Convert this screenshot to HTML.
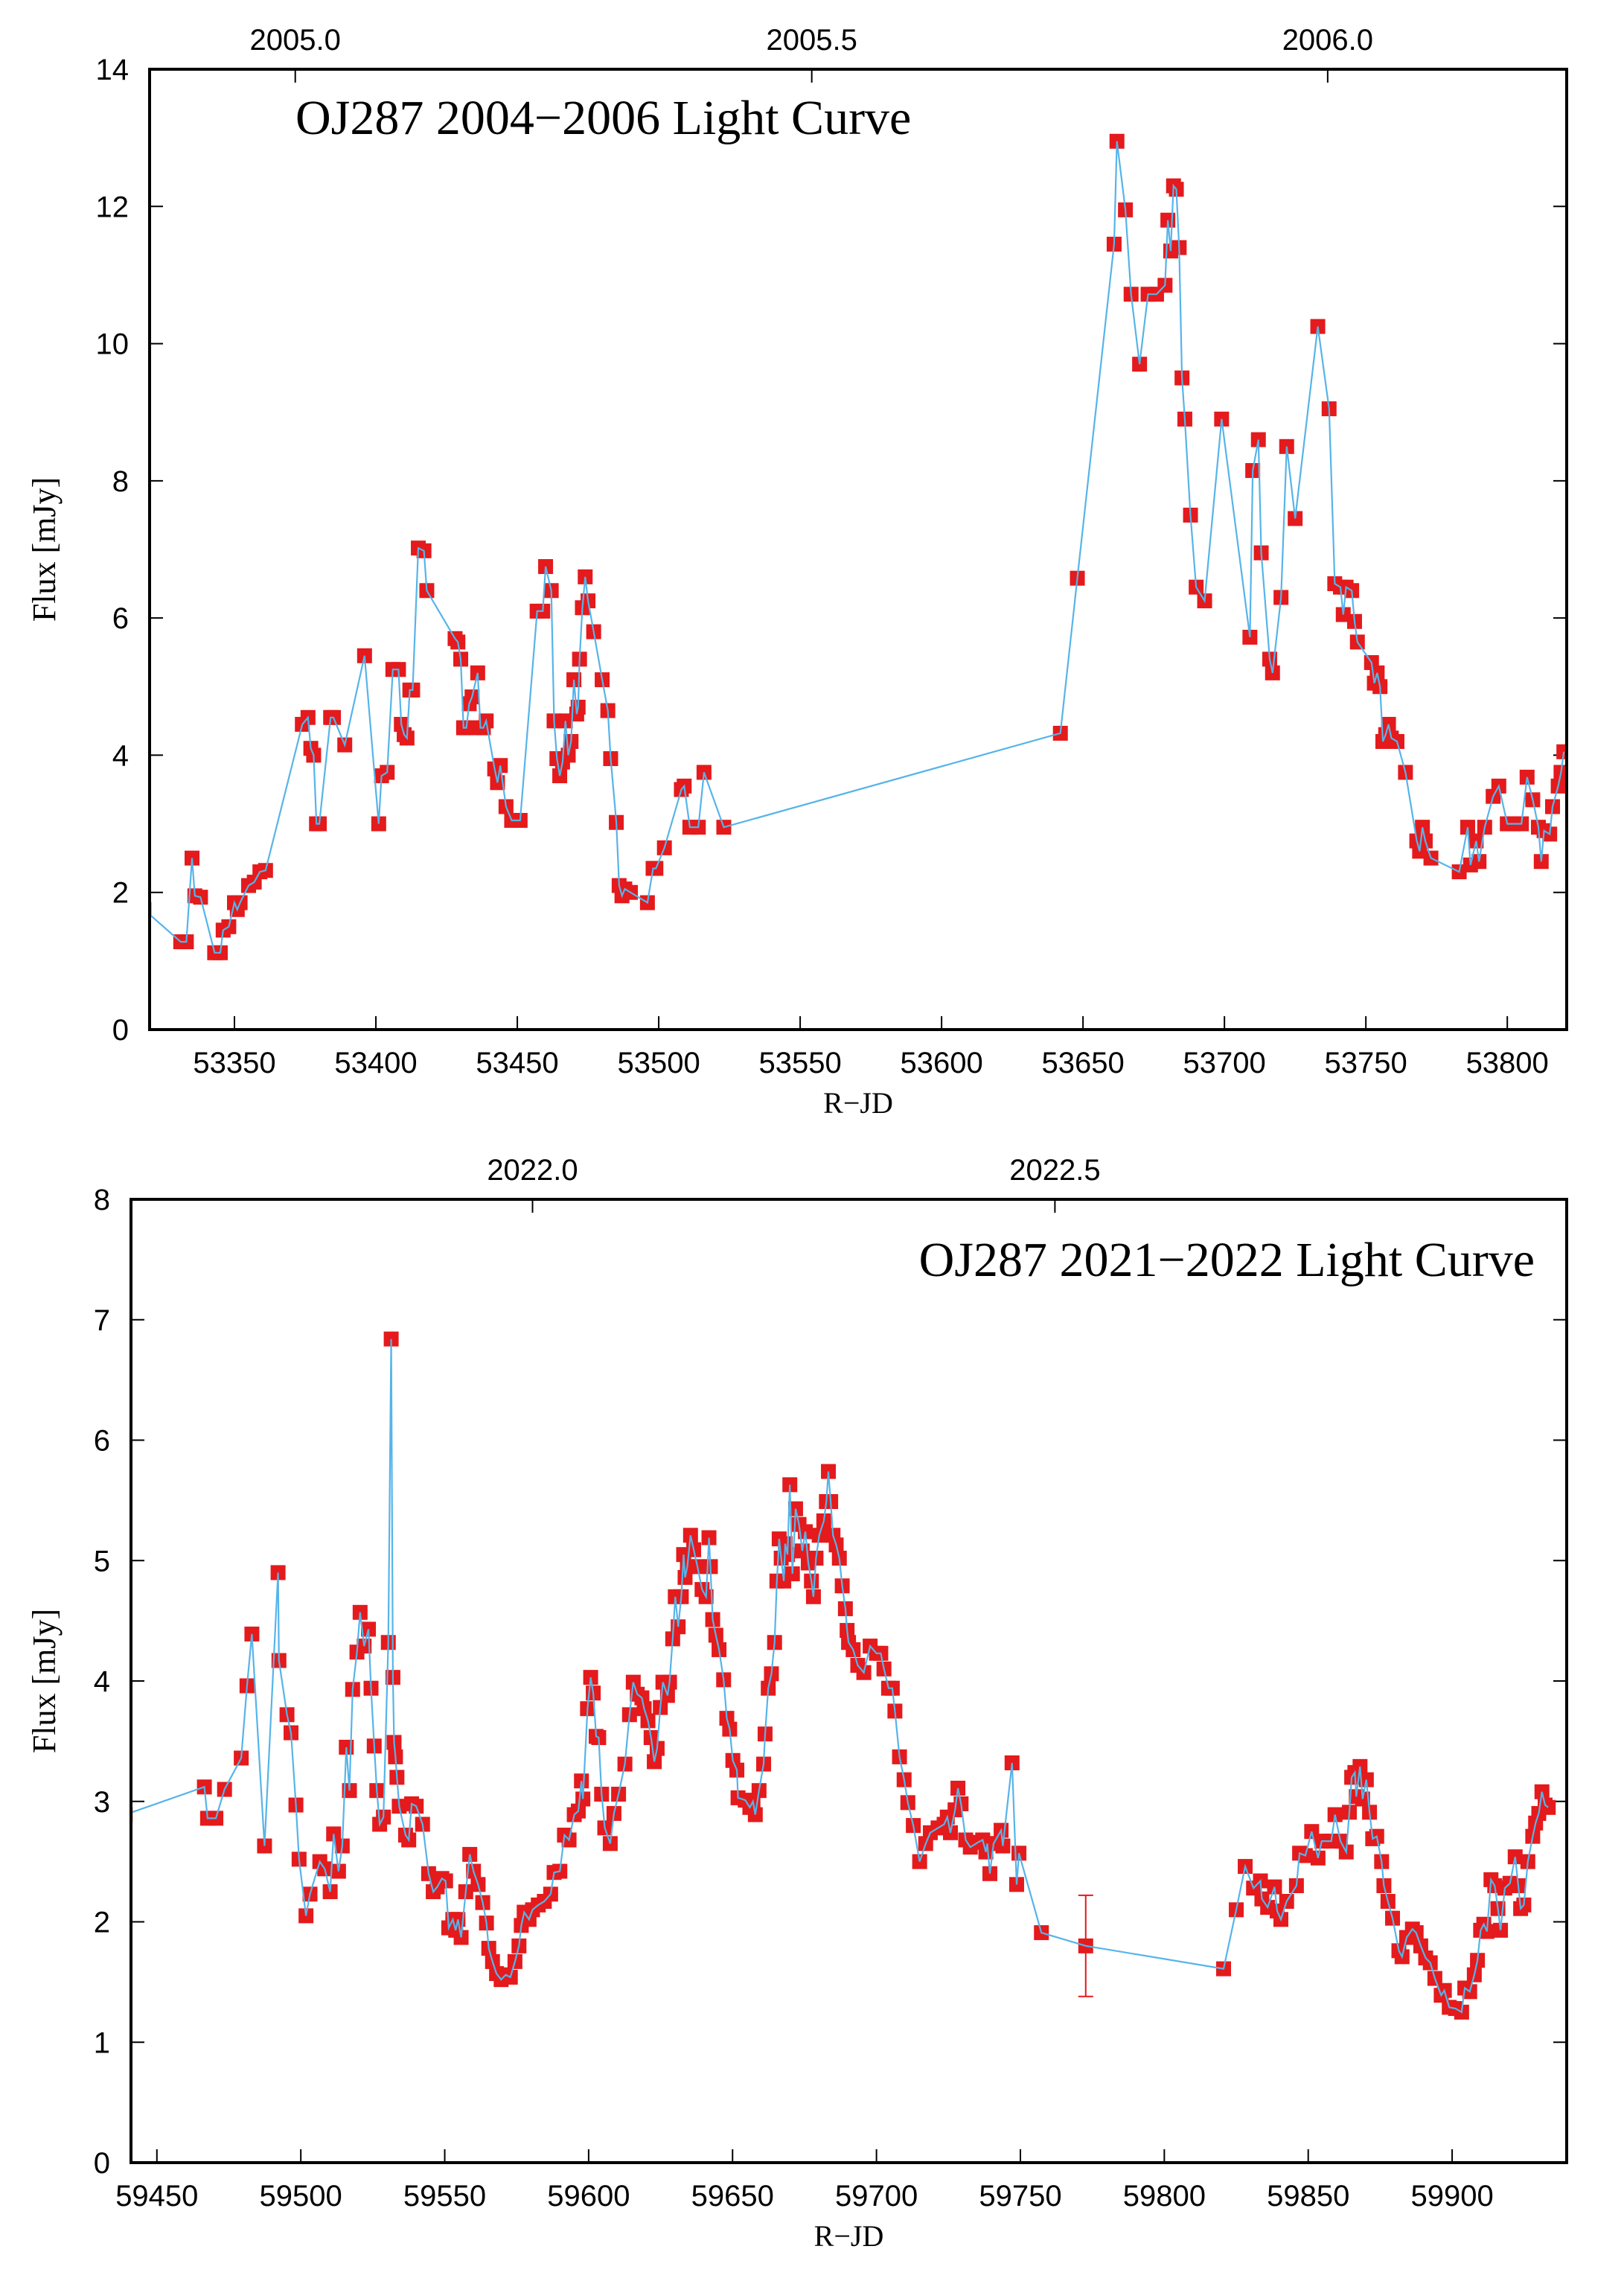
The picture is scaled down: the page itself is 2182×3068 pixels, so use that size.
<!DOCTYPE html>
<html><head><meta charset="utf-8">
<style>
html,body{margin:0;padding:0;background:#fff;}
svg{display:block;}
.tk{font-family:"Liberation Sans",sans-serif;font-size:40px;fill:#000;}
.sf{font-family:"Liberation Serif",serif;fill:#000;}
</style></head>
<body>
<svg id="chart" width="2182" height="3068" viewBox="0 0 2182 3068" xmlns="http://www.w3.org/2000/svg"></svg>
<script>
// ---- Top panel data (2004-2006) ----
const topDays = [53318,53331,53333,53335,53336,53338,53343,53345,53346,53348,53350,53351,53352,53355,53357,53359,53361,
53374,53376,53377,53378,53379,53380,53384,53385,53389,53396,53401,53402,53404,53406,53408,53409,53410,53411,53412,53413,53415,53417,53418,
53428,53429,53430,53431,53432,53433,53434,53436,53437,53438,53439,53442,53443,53444,53446,53448,53451,
53457,53459,53460,53462,53463,53464,53465,53466,53467,53468,53469,53470,53471,53471.5,53472,53473,53474,53475,53477,53480,53482,53483,53485,53486,53487,53488,53490,53496,53498,53499,53502,53508,53509,53511,53514,53516,53523,
53642,53648,53661,53662,53665,53667,53670,53673,53676,53679,53680,53681,53682,53683,53684,53685,53686,53688,53690,53693,53699,53709,53710,53712,53713,53716,53717,53720,53722,53725,53733,53737,53739,53741,53742,53743,53745,53746,53747,
53752,53753,53754,53755,53756,53757,53758,53759,53761,53764,53768,53769,53770,53771,53773,53783,53786,53787,53789,53790,53792,53795,53797,53800,53802,53805,53807,53809,53811,53812,53813,53815,53816,53818,53819,53820];
const topFlux = [1.75,1.28,1.28,2.5,1.95,1.93,1.12,1.12,1.45,1.5,1.85,1.75,1.85,2.1,2.15,2.3,2.32,
4.45,4.55,4.1,4.0,3.0,3.0,4.55,4.55,4.15,5.45,3.0,3.7,3.75,5.25,5.25,4.45,4.3,4.25,4.95,4.95,7.02,6.98,6.4,
5.7,5.65,5.4,4.4,4.4,4.75,4.85,5.2,4.4,4.4,4.5,3.8,3.6,3.85,3.25,3.05,3.05,
6.1,6.1,6.75,6.4,4.5,3.95,3.7,3.9,4.5,4.0,4.2,5.1,4.6,4.7,5.4,6.15,6.6,6.25,5.8,5.1,4.65,3.95,3.02,2.1,1.95,2.05,2.0,1.85,2.35,2.35,2.65,3.5,3.55,2.95,2.95,3.75,2.95,
4.32,6.58,11.45,12.95,11.95,10.72,9.7,10.72,10.72,10.85,11.8,11.35,12.3,12.25,11.4,9.5,8.9,7.5,6.45,6.25,8.9,5.72,8.15,8.6,6.95,5.4,5.2,6.3,8.5,7.45,10.25,9.05,6.5,6.45,6.05,6.45,6.4,5.95,5.65,
5.35,5.05,5.2,5.0,4.2,4.3,4.45,4.25,4.2,3.75,2.75,2.6,2.95,2.75,2.5,2.3,2.95,2.4,2.75,2.45,2.95,3.4,3.55,3.0,3.0,3.0,3.68,3.35,2.95,2.45,2.9,2.85,3.25,3.55,3.75,4.05];
const topXTicks = [53350,53400,53450,53500,53550,53600,53650,53700,53750,53800];
const topYTicks = [0,2,4,6,8,10,12,14];
const topYearTicks = [53371.5,53554.1,53736.5];
const topYearLabels = ["2005.0","2005.5","2006.0"];

// ---- Bottom panel data (2021-2022) ----
const botDays = [59439,59466.5,59467.6,59470.5,59473.5,59479.3,59481.3,59483,59487.4,59492.1,59492.4,59495.2,59496.6,59498.3,59499.4,59501.8,59503.2,59506.6,59508.3,59510.2,59511.4,59513.1,59514.4,59515.8,59516.9,59518,59519.5,59520.6,59522,59523.5,59524.4,59525.5,59526.4,59527.4,59528.7,59530.4,59531.4,59532,59532.4,59532.9,59533.4,59534.2,59536.4,59537.5,59538.5,59540.1,59542.3,59544.4,59546,59547.4,59549,59550.3,59551.4,59552.8,59553.8,59554.6,59555.7,59557.3,59558.7,59560,59561.6,59563.2,59564.5,59565.3,59566.6,59568,59569.6,59571.2,59572.8,59574.4,59575.8,59576.6,59577.6,59579.3,59580.5,59582.5,59584.6,59586.8,59588,59590,59591.6,59593.2,59595,59596.4,59597.5,59598,59599.6,59600.7,59601.6,59602.6,59603.5,59604.5,59605.6,59607.5,59608.8,59610.4,59612.6,59614.2,59615.5,59616.9,59618.5,59619.3,59620.6,59621.7,59622.8,59623.8,59624.9,59625.8,59627.4,59628.1,59629.2,59630.1,59631.1,59632.2,59633,59633.5,59634.3,59635.4,59636.5,59637.8,59639.4,59640.8,59641.8,59642.3,59643.1,59644.2,59645.3,59646.9,59648,59649,59650.1,59651.5,59651.9,59654.4,59656,59657.1,59657.9,59659.2,59660.8,59661.3,59662.4,59663.5,59664.6,59665.4,59666.2,59666.9,59667.8,59668.3,59669.1,59669.9,59670.8,59671.9,59673.1,59674.2,59675.3,59676.3,59677.4,59678.1,59679,59680.1,59681.7,59682.6,59683.3,59684.1,59684.9,59686,59687.1,59688.1,59689.2,59689.8,59690.3,59691.9,59693.5,59695.6,59697.8,59700,59701.5,59702.6,59704.2,59705.5,59706.4,59708,59709.6,59710.9,59712.8,59715,59717.1,59718.7,59721.4,59723.5,59724.6,59725.7,59727.3,59728.3,59729.4,59731,59732.6,59735.3,59736.9,59738,59738.5,59739.4,59740.7,59743.3,59743.9,59747.1,59748.7,59749.5,59757.3,59772.7,59820.6,59825,59828.1,59831,59833.4,59833.9,59835.9,59838.3,59839.2,59840.5,59842.5,59845.9,59847,59849,59851.2,59853.4,59854.7,59858,59859.3,59861.2,59863.2,59864.3,59865.1,59866.2,59866.7,59868,59868.9,59870.2,59871.3,59872.4,59873.8,59875.5,59876.3,59877.7,59879.3,59881.5,59882.6,59884.2,59886.2,59887.5,59889.1,59890.8,59892.4,59894,59896.2,59897.3,59899,59901.2,59903.3,59904.4,59906.1,59907.7,59908.8,59909.9,59911,59912.1,59913.5,59914.8,59915.9,59916.8,59918.3,59920.1,59921.9,59923,59923.8,59924.9,59926.3,59928,59929,59930.1,59931.2,59932.3,59933.4];
const botFlux = [2.89,3.12,2.86,2.86,3.10,3.36,3.96,4.39,2.63,4.90,4.17,3.72,3.57,2.97,2.52,2.05,2.23,2.50,2.44,2.25,2.73,2.42,2.63,3.45,3.09,3.93,4.24,4.57,4.29,4.43,3.94,3.46,3.09,2.81,2.87,4.32,6.84,4.03,3.49,3.37,3.2,2.96,2.72,2.68,2.98,2.96,2.81,2.40,2.25,2.29,2.36,2.34,1.95,2.02,1.93,2.02,1.87,2.25,2.56,2.42,2.31,2.16,1.99,1.78,1.67,1.57,1.52,1.56,1.54,1.67,1.80,1.97,2.08,2.02,2.10,2.14,2.17,2.23,2.41,2.42,2.72,2.68,2.89,2.92,3.17,3.02,3.77,4.03,3.90,3.54,3.53,3.06,2.78,2.65,2.90,3.06,3.31,3.72,3.99,3.89,3.86,3.77,3.67,3.53,3.33,3.44,3.78,3.99,3.88,3.99,4.35,4.70,4.45,4.70,5.05,4.86,4.95,5.21,5.09,4.95,4.76,4.70,5.19,4.95,4.51,4.38,4.26,4.01,3.69,3.60,3.34,3.26,3.03,3.01,2.95,3.00,2.89,3.09,3.31,3.56,3.94,4.06,4.32,4.83,5.18,5.02,4.83,5.14,5.05,5.63,4.89,5.43,5.30,5.08,5.24,4.98,4.83,4.70,5.02,5.21,5.33,5.49,5.74,5.49,5.21,5.13,5.02,4.79,4.60,4.42,4.32,4.26,4.13,4.07,4.29,4.23,4.23,4.10,3.94,3.94,3.75,3.37,3.18,2.99,2.80,2.50,2.65,2.74,2.78,2.81,2.87,2.74,2.93,3.11,2.98,2.68,2.62,2.66,2.68,2.58,2.65,2.40,2.65,2.76,2.63,3.32,2.31,2.57,1.91,1.80,1.61,2.10,2.46,2.28,2.34,2.19,2.12,2.29,2.09,2.02,2.17,2.30,2.57,2.55,2.75,2.53,2.67,2.67,2.89,2.67,2.58,2.91,3.20,3.24,3.04,3.29,3.02,3.18,2.91,2.69,2.71,2.50,2.30,2.17,2.03,1.76,1.71,1.87,1.94,1.91,1.80,1.70,1.66,1.53,1.39,1.43,1.29,1.28,1.25,1.45,1.42,1.56,1.68,1.93,1.98,1.92,2.35,2.30,2.11,1.93,2.28,2.32,2.54,2.30,2.11,2.14,2.50,2.71,2.82,2.90,3.08,2.97,2.95];
const botErrDay = [59772.7];
const botErrLo = [1.38];
const botErrHi = [2.22];
const botXTicks = [59450,59500,59550,59600,59650,59700,59750,59800,59850,59900];
const botYTicks = [0,1,2,3,4,5,6,7,8];
const botYearTicks = [59580.5,59762];
const botYearLabels = ["2022.0","2022.5"];

const NS = "http://www.w3.org/2000/svg";
const svg = document.getElementById('chart');
function mk(tag, attrs, parent, text){
  const e = document.createElementNS(NS, tag);
  for (const k in attrs) e.setAttribute(k, attrs[k]);
  if (text !== undefined) e.textContent = text;
  (parent || svg).appendChild(e);
  return e;
}

function panel(cfg){
  const g = mk('g', {});
  
  
  const L=cfg.L,R=cfg.R,T=cfg.T,B=cfg.B;
  const sx = v => L + (v - cfg.x0) / (cfg.x1 - cfg.x0) * (R - L);
  const sy = v => B - (v - cfg.y0) / (cfg.y1 - cfg.y0) * (B - T);
  const clip = mk('clipPath', {id: cfg.name + '-clip'}, g);
  mk('rect', {x:L, y:T, width:R-L, height:B-T}, clip);

  cfg.yTicks.forEach(v => {
    const y = sy(v);
    const t1 = mk('line', {x1:L, x2:L+18, y1:y, y2:y, stroke:'#000', 'stroke-width':2}, g);
    
    
    mk('line', {x1:R, x2:R-18, y1:y, y2:y, stroke:'#000', 'stroke-width':2}, g);
    const lb = mk('text', {x:L-28, y:y+14, 'text-anchor':'end', class:'tk'}, g, String(v));
    
    
  });
  cfg.xTicks.forEach(v => {
    const x = sx(v);
    const t1 = mk('line', {x1:x, x2:x, y1:B, y2:B-18, stroke:'#000', 'stroke-width':2}, g);
    
    
    const lb = mk('text', {x:x, y:B+58, 'text-anchor':'middle', class:'tk'}, g, String(v));
    
    
  });
  cfg.yearTicks.forEach((v, i) => {
    const x = sx(v);
    mk('line', {x1:x, x2:x, y1:T, y2:T+18, stroke:'#000', 'stroke-width':2}, g);
    const lb = mk('text', {x:x, y:T-26, 'text-anchor':'middle', class:'tk'}, g, cfg.yearLabels[i]);
    
    
  });

  const dg = mk('g', {'clip-path': 'url(#' + cfg.name + '-clip)'}, g);
  (cfg.errDay || []).forEach((d, i) => {
    const x = sx(d);
    const eb = mk('path', {d:`M${x},${sy(cfg.errLo[i])}V${sy(cfg.errHi[i])}M${x-10},${sy(cfg.errLo[i])}H${x+10}M${x-10},${sy(cfg.errHi[i])}H${x+10}`, stroke:'#e41a1c', 'stroke-width':2, fill:'none'}, dg);
    
    
  });
  cfg.days.forEach((d, i) => {
    const m = mk('rect', {x:sx(d)-10, y:sy(cfg.flux[i])-10, width:20, height:20, fill:'#e41a1c'}, dg);
    
    
  });
  const pts = cfg.days.map((d, i) => sx(d).toFixed(1) + ',' + sy(cfg.flux[i]).toFixed(1)).join(' ');
  const pl = mk('polyline', {points:pts, fill:'none', stroke:'#56b4e9', 'stroke-width':2.2}, dg);
  
  

  const fr = mk('rect', {x:L, y:T, width:R-L, height:B-T, fill:'none', stroke:'#000', 'stroke-width':4}, g);
  
  

  const ttl = mk('text', {x:cfg.titleX, y:cfg.titleY, 'text-anchor':cfg.titleAnchor, class:'sf', 'font-size':66}, g, cfg.title);
  
  
  const xt = mk('text', {x:(L+R)/2, y:B+112, 'text-anchor':'middle', class:'sf', 'font-size':40}, g, 'R\u2212JD');
  
  
  const yc = (T+B)/2;
  const yt = mk('text', {x:74, y:yc, 'text-anchor':'middle', class:'sf', 'font-size':44, transform:`rotate(-90 74 ${yc})`}, g, 'Flux [mJy]');
  
  
}

panel({name:'top-panel', L:201, R:2105, T:93, B:1383, x0:53320, x1:53821, y0:0, y1:14,
  xTicks:topXTicks, yTicks:topYTicks, yearTicks:topYearTicks, yearLabels:topYearLabels,
  days:topDays, flux:topFlux, title:'OJ287 2004\u22122006 Light Curve', titleX:397, titleY:180, titleAnchor:'start'});
panel({name:'bottom-panel', L:176, R:2105, T:1611, B:2905, x0:59441, x1:59939.8, y0:0, y1:8,
  xTicks:botXTicks, yTicks:botYTicks, yearTicks:botYearTicks, yearLabels:botYearLabels,
  days:botDays, flux:botFlux, errDay:botErrDay, errLo:botErrLo, errHi:botErrHi,
  title:'OJ287 2021\u22122022 Light Curve', titleX:2062, titleY:1714, titleAnchor:'end'});
</script>
</body></html>
